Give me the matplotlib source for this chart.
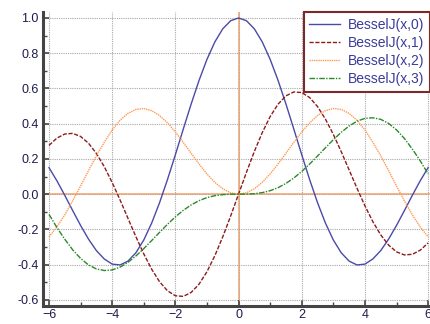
import matplotlib
matplotlib.use('Agg')
import matplotlib.pyplot as plt
from matplotlib.ticker import MultipleLocator

plt.rcParams['font.family'] = ['Liberation Sans', 'DejaVu Sans']

# sample points, step 0.25 from -6 to 6
x = [-6.0, -5.75, -5.5, -5.25, -5.0, -4.75, -4.5, -4.25, -4.0, -3.75, -3.5, -3.25,
     -3.0, -2.75, -2.5, -2.25, -2.0, -1.75, -1.5, -1.25, -1.0, -0.75, -0.5, -0.25,
     0.0, 0.25, 0.5, 0.75, 1.0, 1.25, 1.5, 1.75, 2.0, 2.25, 2.5, 2.75,
     3.0, 3.25, 3.5, 3.75, 4.0, 4.25, 4.5, 4.75, 5.0, 5.25, 5.5, 5.75, 6.0]

j0 = [0.1506, 0.0758, -0.0068, -0.0933, -0.1776, -0.2551, -0.3205, -0.3680, -0.3971,
      -0.4018, -0.3801, -0.3328, -0.2601, -0.1641, -0.0484, 0.0827, 0.2239, 0.3690,
      0.5118, 0.6459, 0.7652, 0.8642, 0.9385, 0.9844, 1.0000, 0.9844, 0.9385, 0.8642,
      0.7652, 0.6459, 0.5118, 0.3690, 0.2239, 0.0827, -0.0484, -0.1641, -0.2601,
      -0.3328, -0.3801, -0.4018, -0.3971, -0.3680, -0.3205, -0.2551, -0.1776, -0.0933,
      -0.0068, 0.0758, 0.1506]

j1 = [0.2767, 0.3183, 0.3414, 0.3449, 0.3276, 0.2892, 0.2311, 0.1559, 0.0660,
      -0.0332, -0.1374, -0.2411, -0.3391, -0.4260, -0.4971, -0.5484, -0.5767, -0.5802,
      -0.5579, -0.5106, -0.4401, -0.3492, -0.2423, -0.1240, 0.0000, 0.1240, 0.2423,
      0.3492, 0.4401, 0.5106, 0.5579, 0.5802, 0.5767, 0.5484, 0.4971, 0.4260, 0.3391,
      0.2411, 0.1374, 0.0332, -0.0660, -0.1559, -0.2311, -0.2892, -0.3276, -0.3449,
      -0.3414, -0.3183, -0.2767]

j2 = [-0.2429, -0.1860, -0.1173, -0.0380, 0.0466, 0.1334, 0.2178, 0.2948, 0.3641,
      0.4195, 0.4586, 0.4811, 0.4861, 0.4739, 0.4461, 0.4047, 0.3528, 0.2940, 0.2321,
      0.1711, 0.1149, 0.0671, 0.0306, 0.0078, 0.0000, 0.0078, 0.0306, 0.0671, 0.1149,
      0.1711, 0.2321, 0.2940, 0.3528, 0.4047, 0.4461, 0.4739, 0.4861, 0.4811, 0.4586,
      0.4195, 0.3641, 0.2948, 0.2178, 0.1334, 0.0466, -0.0380, -0.1173, -0.1860, -0.2429]

j3 = [-0.1148, -0.1893, -0.2561, -0.3159, -0.3648, -0.4015, -0.4247, -0.4334, -0.4302,
      -0.4143, -0.3868, -0.3510, -0.3091, -0.2633, -0.2167, -0.1711, -0.1289, -0.0918,
      -0.0610, -0.0369, -0.0196, -0.0087, -0.0026, -0.0003, 0.0000, 0.0003, 0.0026,
      0.0087, 0.0196, 0.0369, 0.0610, 0.0918, 0.1289, 0.1711, 0.2167, 0.2633, 0.3091,
      0.3510, 0.3868, 0.4143, 0.4302, 0.4334, 0.4247, 0.4015, 0.3648, 0.3159, 0.2561,
      0.1893, 0.1148]

labels = ['BesselJ(x,0)', 'BesselJ(x,1)', 'BesselJ(x,2)', 'BesselJ(x,3)']

fig = plt.figure(figsize=(4.3, 3.24), dpi=100)
ax = fig.add_axes([0.1, 0.056, 0.9, 0.907])

# orange zero lines through the origin
ax.axhline(0, color='#ff9f5f', lw=1.1, zorder=1)
ax.axvline(0, color='#ff9f5f', lw=1.1, zorder=1)

ax.plot(x, j0, color='#4a4aa8', lw=1.0, ls='-', label=labels[0], zorder=3)
ax.plot(x, j1, color='#8b1c1c', lw=1.0, ls=(0, (3, 1.2)), label=labels[1], zorder=3)
ax.plot(x, j2, color='#ff9a55', lw=1.0, ls=(0, (1, 0.6)), label=labels[2], zorder=3)
ax.plot(x, j3, color='#2a8a2a', lw=1.0, ls=(0, (4, 1, 1, 1)), label=labels[3], zorder=3)

ax.set_xlim(-6.19, 6.06)
ax.set_ylim(-0.634, 1.034)

ax.xaxis.set_major_locator(MultipleLocator(2))
ax.xaxis.set_minor_locator(MultipleLocator(1))
ax.yaxis.set_major_locator(MultipleLocator(0.2))
ax.yaxis.set_minor_locator(MultipleLocator(0.1))
ax.yaxis.set_major_formatter(plt.FuncFormatter(lambda v, p: f'{v:.1f}'))

ax.grid(True, which='major', color='#a8a8a8', ls=(0, (1, 1)), lw=0.8, zorder=0)

for side in ['top', 'right']:
    ax.spines[side].set_visible(False)
for side in ['left', 'bottom']:
    ax.spines[side].set_color('#444444')
    ax.spines[side].set_linewidth(2.2)

ax.tick_params(which='major', direction='in', length=4, width=1.2, color='#444444',
               labelsize=9, labelcolor='#1c1c4c', pad=3)
ax.tick_params(which='minor', direction='in', length=3, width=1.0, color='#444444')
ax.tick_params(axis='x', pad=2)

leg = ax.legend(loc='upper right', bbox_to_anchor=(1.0, 1.0), borderaxespad=0,
                fancybox=False, framealpha=1, fontsize=10, handlelength=2.2,
                handletextpad=0.6, labelspacing=0.3, borderpad=0.4)
leg.get_frame().set_edgecolor('#7a2a2a')
leg.get_frame().set_linewidth(1.5)
for t in leg.get_texts():
    t.set_color('#3a3a9a')

fig.savefig('out.png', dpi=100)
